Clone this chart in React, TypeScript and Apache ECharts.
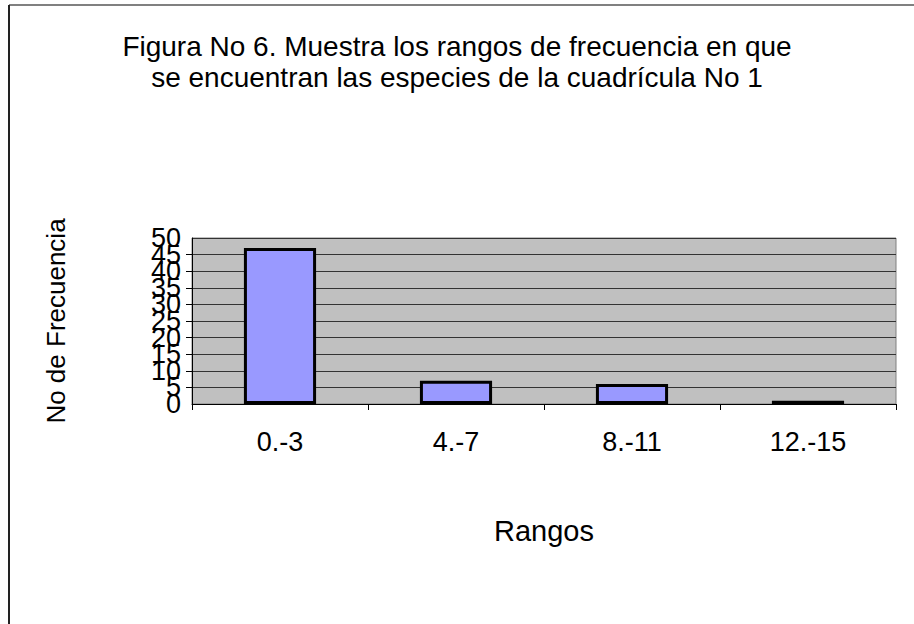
import React, { useEffect, useRef } from "react";
import * as echarts from "echarts";

const categories = ["0.-3", "4.-7", "8.-11", "12.-15"];
const frecuencia = [47, 7, 6, 1];
const titleText = "Figura No 6. Muestra los rangos de frecuencia en que\nse encuentran las especies de la cuadrícula No 1";
const yName = "No de Frecuencia";
const xName = "Rangos";
const yMin = 0;
const yMax = 50;
const yStep = 5;

export default function App() {
  const ref = useRef<HTMLDivElement>(null);
  useEffect(() => {
    if (!ref.current) return;
    const chart = echarts.init(ref.current, undefined, { renderer: "svg" });
    const font = "Liberation Sans, Arial, sans-serif";
    const labelStyle = { fontFamily: font, fontSize: 27, color: "#000", margin: 11 };
    chart.setOption({
      animation: false,
      backgroundColor: "#ffffff",
      textStyle: { fontFamily: font },
      graphic: [
        { type: "line", shape: { x1: 9, y1: 5, x2: 914, y2: 5 }, style: { stroke: "#808080", lineWidth: 2 } },
        { type: "line", shape: { x1: 9, y1: 5, x2: 9, y2: 624 }, style: { stroke: "#222222", lineWidth: 2 } },
      ],
      title: {
        text: titleText,
        left: "center",
        top: 26,
        textStyle: { fontFamily: font, fontSize: 28, fontWeight: "normal", color: "#000", lineHeight: 31 },
      },
      grid: {
        left: 192,
        right: 18,
        top: 238,
        bottom: 220,
        show: true,
        backgroundColor: "#c0c0c0",
        borderColor: "#808080",
        borderWidth: 1,
      },
      xAxis: {
        type: "category",
        data: categories,
        name: xName,
        nameLocation: "middle",
        nameGap: 112,
        nameTextStyle: { fontFamily: font, fontSize: 29, color: "#000" },
        axisLine: { show: true, lineStyle: { color: "#000", width: 1 } },
        axisTick: { show: true, alignWithLabel: false, length: 6, lineStyle: { color: "#000" } },
        axisLabel: { fontFamily: font, fontSize: 27, color: "#000", margin: 24 },
      },
      yAxis: [
        {
          type: "value",
          min: yMin,
          max: yMax,
          interval: yStep,
          name: yName,
          nameLocation: "middle",
          nameGap: 123,
          nameRotate: 90,
          nameTextStyle: { fontFamily: font, fontSize: 26, color: "#000" },
          axisLine: { show: true, lineStyle: { color: "#000", width: 1 } },
          axisTick: { show: true, length: 6, lineStyle: { color: "#000" } },
          axisLabel: { ...labelStyle, showMinLabel: false, showMaxLabel: false },
          splitLine: { show: true, lineStyle: { color: "#333", width: 1 } },
        },
        {
          type: "value",
          position: "left",
          offset: 0,
          min: yMin,
          max: yMax,
          interval: yStep,
          axisLine: { show: false },
          axisTick: { show: false },
          splitLine: { show: false },
          axisLabel: {
            ...labelStyle,
            showMinLabel: true,
            showMaxLabel: true,
            formatter: (v: number) => (v === yMin || v === yMax ? String(v) : ""),
          },
        },
      ],
      series: [
        {
          type: "bar",
          data: frecuencia,
          yAxisIndex: 0,
          barWidth: "41%",
          itemStyle: { color: "#9999ff", borderColor: "#000", borderWidth: 3 },
        },
      ],
    });
    return () => chart.dispose();
  }, []);
  return <div ref={ref} style={{ position: "fixed", left: 0, top: 0, width: 914, height: 624 }} />;
}
